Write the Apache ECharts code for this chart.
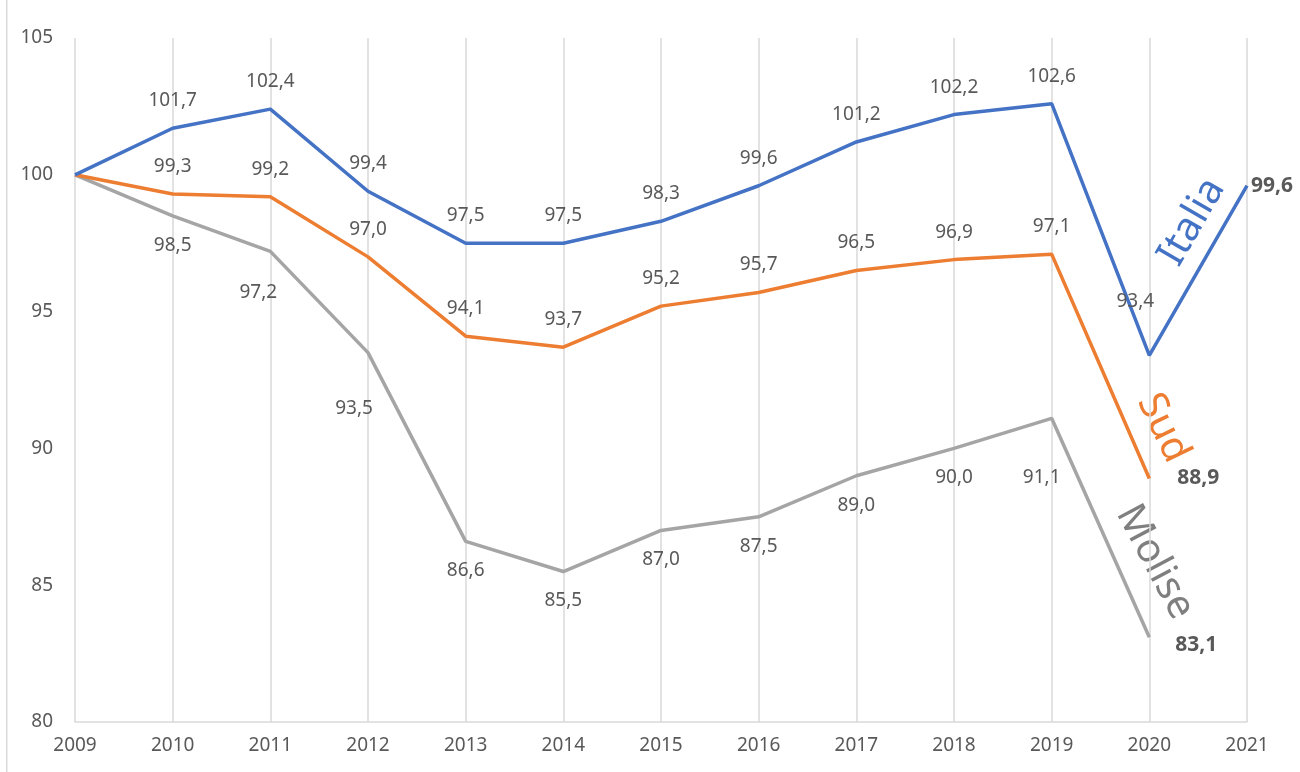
<!DOCTYPE html>
<html>
<head>
<meta charset="utf-8">
<script src="https://cdn.jsdelivr.net/npm/echarts@6/dist/echarts.min.js"></script>
<style>
	html, body { margin: 0; padding: 0; background: #fff; }
	#chart { width: 1300px; height: 772px; }
</style>
</head>
<body>
<div id="chart"></div>
<script>
var anni = ['2009', '2010', '2011', '2012', '2013', '2014', '2015', '2016', '2017', '2018', '2019', '2020', '2021'];
var italia = [100, 101.7, 102.4, 99.4, 97.5, 97.5, 98.3, 99.6, 101.2, 102.2, 102.6, 93.4, 99.6];
var sud = [100, 99.3, 99.2, 97.0, 94.1, 93.7, 95.2, 95.7, 96.5, 96.9, 97.1, 88.9, null];
var molise = [100, 98.5, 97.2, 93.5, 86.6, 85.5, 87.0, 87.5, 89.0, 90.0, 91.1, 83.1, null];
var yTicks = [80, 85, 90, 95, 100, 105];

var grigio = '#595959';
var fnt = 'Noto Sans';

function virgola(v) {
	return v.toFixed(1).replace('.', ',');
}

// label per ogni punto: sopra o sotto, con qualche eccezione a mano
function punti(vals, pos, dist, speciali, ultimo) {
	let out = [];
	for (let i = 0; i < vals.length; i++) {
		let v = vals[i];
		if (v == null) { out.push(null); continue; }
		let lab = {
			show: i > 0,
			position: pos,
			distance: dist,
			color: grigio,
			fontSize: 19,
			fontFamily: fnt,
			formatter: virgola(v)
		};
		if (speciali[i]) {
			lab.offset = speciali[i];
		}
		if (i == ultimo[0]) {
			lab.position = 'right';
			lab.distance = ultimo[1];
			lab.offset = ultimo[2];
			lab.fontWeight = 'bold';
			lab.fontSize = 21;
		}
		out.push({ value: v, label: lab });
	}
	return out;
}

function serie(nome, vals, colore, pos, dist, speciali, ultimo) {
	return {
		name: nome,
		type: 'line',
		data: punti(vals, pos, dist, speciali, ultimo),
		symbol: 'circle',
		symbolSize: 0,
		showSymbol: true,
		connectNulls: false,
		lineStyle: { color: colore, width: 3.5 },
		itemStyle: { color: colore },
		emphasis: { disabled: true },
		z: 3
	};
}

let chart = echarts.init(document.getElementById('chart'));
let option = {
	animation: false,
	backgroundColor: '#fff',
	grid: { left: 75, right: 53, top: 38, bottom: 50 },
	xAxis: {
		type: 'category',
		data: anni,
		boundaryGap: false,
		axisLine: { lineStyle: { color: '#d9d9d9', width: 1.5 } },
		axisTick: { show: false },
		axisLabel: { color: grigio, fontSize: 19, fontFamily: fnt, margin: 14 },
		splitLine: { show: true, lineStyle: { color: '#d9d9d9', width: 1.5 } }
	},
	yAxis: {
		type: 'value',
		min: yTicks[0],
		max: yTicks[yTicks.length - 1],
		interval: 5,
		axisLine: { show: false },
		axisTick: { show: false },
		splitLine: { show: false },
		axisLabel: { color: grigio, fontSize: 19, fontFamily: fnt, margin: 22 }
	},
	series: [
		serie('Molise', molise, '#a5a5a5', 'bottom', 20, { 2: [-12, 12], 3: [-14, 26], 10: [-10, 30] }, [11, 26, [0, 8]]),
		serie('Sud', sud, '#ed7d31', 'top', 18, {}, [11, 28, [0, 0]]),
		serie('Italia', italia, '#4472c4', 'top', 18, { 11: [-14, -26] }, [12, 4, [0, 0]])
	],
	graphic: [
		{ type: 'rect', shape: { x: 6, y: 0, width: 1.5, height: 772 }, style: { fill: '#d9d9d9' } },
		{ type: 'text', x: 1192, y: 222, rotation: 60 * Math.PI / 180,
			style: { text: 'Italia', fill: '#4472c4', font: '40px "Noto Sans"', align: 'center', verticalAlign: 'middle' } },
		{ type: 'text', x: 1163, y: 428, rotation: -64 * Math.PI / 180,
			style: { text: 'Sud', fill: '#ed7d31', font: '40px "Noto Sans"', align: 'center', verticalAlign: 'middle' } },
		{ type: 'text', x: 1155, y: 562, rotation: -62 * Math.PI / 180,
			style: { text: 'Molise', fill: '#7f7f7f', font: '40px "Noto Sans"', align: 'center', verticalAlign: 'middle' } }
	]
};
chart.setOption(option);
</script>
</body>
</html>
